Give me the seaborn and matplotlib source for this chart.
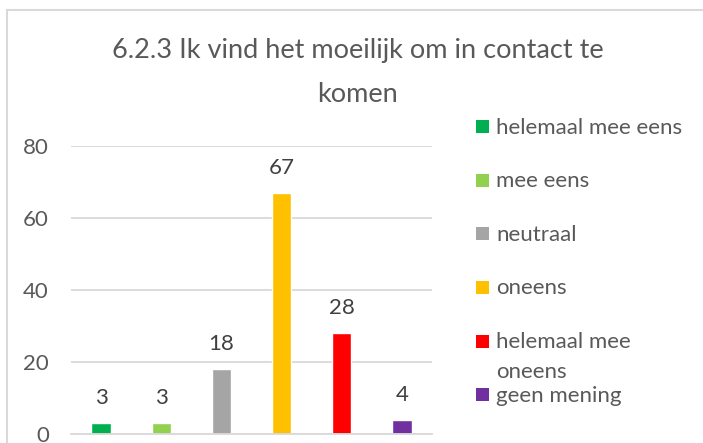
import matplotlib
matplotlib.use("Agg")
import matplotlib.pyplot as plt
import seaborn as sns
from matplotlib.patches import Rectangle

# data
categories = ["helemaal mee eens", "mee eens", "neutraal", "oneens",
              "helemaal mee oneens", "geen mening"]
legend_labels = ["helemaal mee eens", "mee eens", "neutraal", "oneens",
                 "helemaal mee\noneens", "geen mening"]
values = [3, 3, 18, 67, 28, 4]
colors = ["#00B050", "#92D050", "#A5A5A5", "#FFC000", "#FF0000", "#7030A0"]
yticks = [0, 20, 40, 60, 80]
title = "6.2.3 Ik vind het moeilijk om in contact te\nkomen"

sns.set_style("white")
plt.rcParams["font.family"] = ["Lato", "DejaVu Sans"]

W, H = 703, 443
fig = plt.figure(figsize=(W / 100, H / 100), dpi=100)
ax = fig.add_axes([71 / W, 1 - 434 / H, (432 - 71) / W, (434 - 146) / H])

sns.barplot(x=categories, y=values, hue=categories, palette=colors,
            width=0.32, legend=False, saturation=1, ax=ax)

ax.set_ylim(0, 80)
ax.set_xlim(-0.5, 5.5)
ax.set_yticks(yticks)
ax.set_xticks([])
ax.set_xlabel("")
ax.set_ylabel("")
ax.yaxis.grid(True, color="#D9D9D9", linewidth=1.3)
ax.set_axisbelow(True)
for s in ["top", "right", "left"]:
    ax.spines[s].set_visible(False)
ax.spines["bottom"].set_color("#D9D9D9")
ax.spines["bottom"].set_linewidth(1.3)
ax.tick_params(axis="y", length=0, pad=16, labelsize=16, labelcolor="#595959")

# data labels
for i, v in enumerate(values):
    ax.annotate(str(v), (i, v), xytext=(0, 18), textcoords="offset points",
                ha="center", va="center", fontsize=16, color="#404040")

# title, one line at a time (Excel wraps with wide line gap)
for k, line in enumerate(title.split("\n")):
    fig.text(357.5 / W, 1 - (58.3 + 44 * k) / H, line, ha="center",
             va="baseline", fontsize=19.5, color="#595959")

# legend (Excel style, evenly spaced entries)
leg_y = [126.7, 180.3, 233.9, 287.5, 341.1, 394.7]
for lab, col, y in zip(legend_labels, colors, leg_y):
    fig.add_artist(Rectangle((476 / W, 1 - (y + 6.5) / H), 13 / W, 13 / H,
                             transform=fig.transFigure, color=col, lw=0))
    for k, line in enumerate(lab.split("\n")):
        fig.text(496 / W, 1 - (y + 7 + 30 * k) / H, line, ha="left",
                 va="baseline", fontsize=16, color="#595959")

# chart border
fig.add_artist(Rectangle((7 / W, -0.05), 1.0, 1 - 10 / H + 0.05,
                         transform=fig.transFigure, fill=False,
                         edgecolor="#D9D9D9", linewidth=1.5))

fig.savefig("out.png", dpi=100)
